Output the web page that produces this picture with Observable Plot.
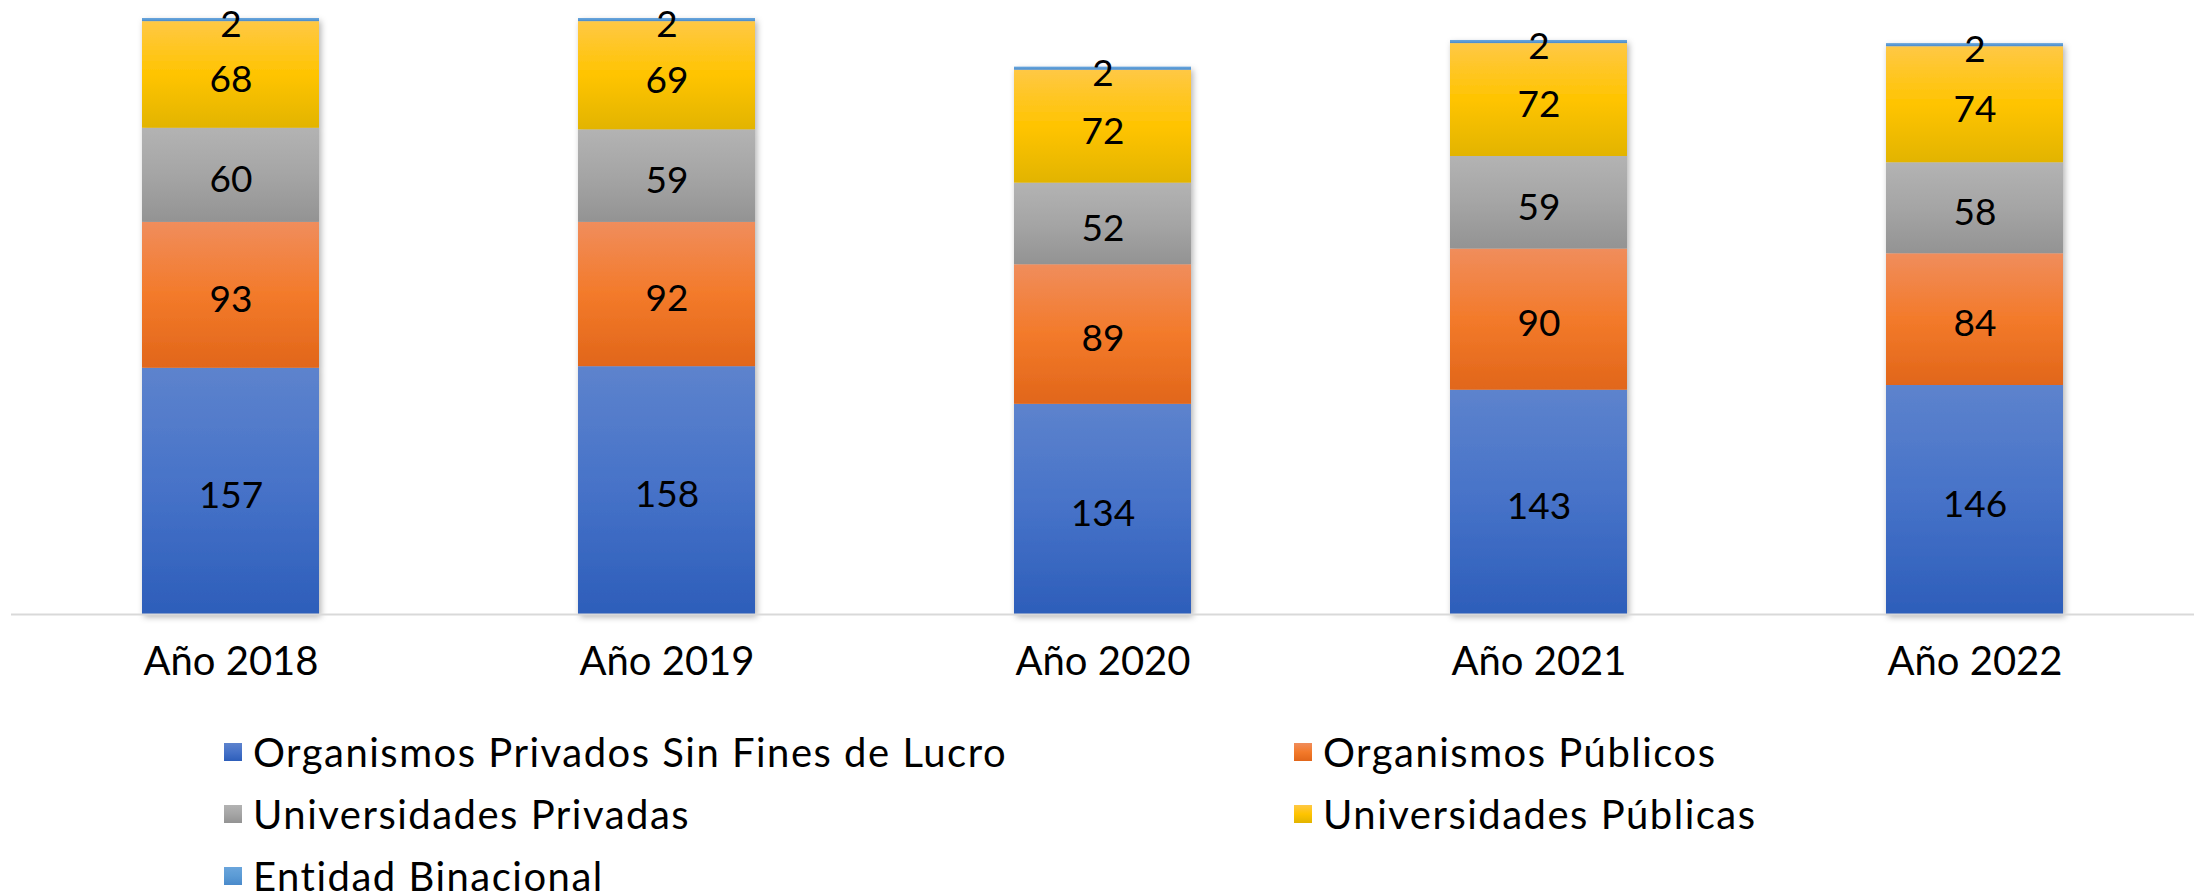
<!DOCTYPE html>
<html>
<head>
<meta charset="utf-8">
<script src="https://cdn.jsdelivr.net/npm/d3@7"></script>
<script src="https://cdn.jsdelivr.net/npm/@observablehq/plot@0.6"></script>
<style>
  html, body { margin: 0; padding: 0; background: #fff; }
  body { width: 2194px; height: 896px; overflow: hidden; font-family: Lato, "Open Sans", sans-serif; color: #000; }
  #legend { display: grid; grid-template-columns: 1070px auto; padding-left: 224px; margin-top: 21px; grid-auto-rows: 62px; }
  .item { display: flex; align-items: center; font-size: 40px; letter-spacing: 1.5px; }
  .item .t { display: inline-block; line-height: 36px; height: 36px; }
  .sw { width: 18px; height: 18px; margin-right: 11px; flex: none; }
</style>
</head>
<body>
<div id="chart"></div>
<div id="legend"></div>
<script>
const years = ["Año 2018", "Año 2019", "Año 2020", "Año 2021", "Año 2022"];
const series = ["Organismos Privados Sin Fines de Lucro", "Organismos Públicos", "Universidades Privadas", "Universidades Públicas", "Entidad Binacional"];
const privadosSFL = [157, 158, 134, 143, 146];
const publicos = [93, 92, 89, 90, 84];
const univPrivadas = [60, 59, 52, 59, 58];
const univPublicas = [68, 69, 72, 72, 74];
const binacional = [2, 2, 2, 2, 2];
const seriesValues = [privadosSFL, publicos, univPrivadas, univPublicas, binacional];

// gradient stops per series (top, middle, bottom)
const grads = [
  ["#5d83cd", "#4672c8", "#2d5eba"],
  ["#f08d5c", "#f37a2a", "#e1661a"],
  ["#b3b3b3", "#a5a5a5", "#939393"],
  ["#ffc845", "#ffc400", "#e2b400"],
  ["#6aa5dc", "#5b9bd5", "#4a8acb"]
];

const data = [];
series.forEach((s, i) => years.forEach((y, j) => data.push({year: y, series: s, value: seriesValues[i][j]})));

const plot = Plot.plot({
  width: 2194,
  height: 700,
  marginTop: 18,
  marginBottom: 86,
  marginLeft: 11,
  marginRight: 0,
  style: {fontFamily: "Lato, 'Open Sans', sans-serif", fontSize: "40px", color: "#000", background: "#fff"},
  x: {domain: years, paddingInner: 0.595, paddingOuter: 0.2975, label: null, tickSize: 0, tickPadding: 32},
  y: {domain: [0, 380], axis: null},
  color: {domain: series, range: series.map((_, i) => `url(#g${i})`)},
  marks: [
    Plot.barY(data, {x: "year", y: "value", fill: "series", order: series, inset: 0}),
    Plot.ruleY([0], {stroke: "#d9d9d9", strokeWidth: 2}),
    Plot.text(data, Plot.stackY({x: "year", y: "value", z: "series", order: series, text: d => String(d.value), fill: "#000", fontSize: 37, dy: 5}))
  ]
});

// add gradients + shadow defs
const ns = "http://www.w3.org/2000/svg";
const defs = document.createElementNS(ns, "defs");
grads.forEach((g, i) => {
  const lg = document.createElementNS(ns, "linearGradient");
  lg.setAttribute("id", `g${i}`);
  lg.setAttribute("x1", "0"); lg.setAttribute("y1", "0"); lg.setAttribute("x2", "0"); lg.setAttribute("y2", "1");
  [[0, g[0]], [0.5, g[1]], [1, g[2]]].forEach(([o, c]) => {
    const st = document.createElementNS(ns, "stop");
    st.setAttribute("offset", o); st.setAttribute("stop-color", c);
    lg.appendChild(st);
  });
  defs.appendChild(lg);
});
const f = document.createElementNS(ns, "filter");
f.setAttribute("id", "shadow"); f.setAttribute("x", "-10%"); f.setAttribute("y", "-10%"); f.setAttribute("width", "130%"); f.setAttribute("height", "130%");
const ds = document.createElementNS(ns, "feDropShadow");
ds.setAttribute("dx", "2"); ds.setAttribute("dy", "3"); ds.setAttribute("stdDeviation", "3"); ds.setAttribute("flood-opacity", "0.3");
f.appendChild(ds);
defs.appendChild(f);
plot.insertBefore(defs, plot.firstChild);
const barGroup = plot.querySelector('g[aria-label="bar"]');
if (barGroup) barGroup.setAttribute("filter", "url(#shadow)");

document.getElementById("chart").appendChild(plot);

// legend
const leg = document.getElementById("legend");
series.forEach((s, i) => {
  const it = document.createElement("div");
  it.className = "item";
  const sw = document.createElement("span");
  sw.className = "sw";
  sw.style.background = `linear-gradient(${grads[i][0]}, ${grads[i][1]}, ${grads[i][2]})`;
  const t = document.createElement("span");
  t.className = "t";
  t.textContent = s;
  it.appendChild(sw); it.appendChild(t);
  leg.appendChild(it);
});
</script>
</body>
</html>
